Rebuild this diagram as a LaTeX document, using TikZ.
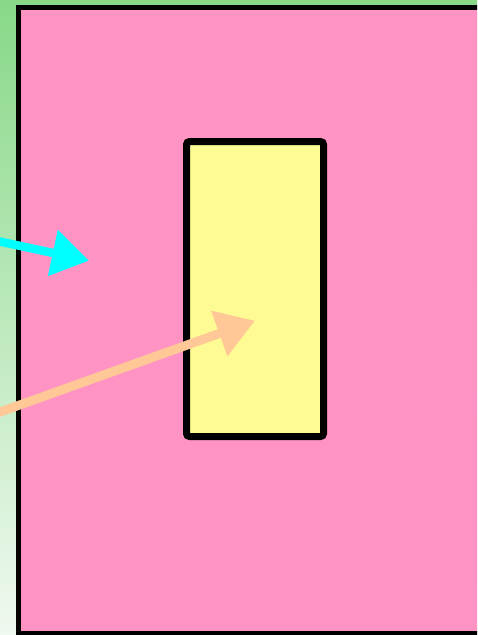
\documentclass[tikz,border=0pt]{standalone}
\usetikzlibrary{arrows.meta}
\definecolor{bgtop}{RGB}{136,216,136}
\definecolor{bgbot}{RGB}{240,249,240}
\definecolor{pinkfill}{RGB}{255,148,196}
\definecolor{yellowfill}{RGB}{255,251,148}
\definecolor{cyanarrow}{RGB}{0,255,255}
\definecolor{peacharrow}{RGB}{255,200,150}
\tikzset{
  panel/.style={draw=black, line width=5pt, fill=pinkfill},
  block/.style={draw=black, line width=7pt, fill=yellowfill, rounded corners=3pt, minimum width=137pt, minimum height=295pt, inner sep=0pt},
  cyanconn/.style={draw=cyanarrow, line width=8.5pt, -{Triangle[length=37pt,width=45pt]}},
  peachconn/.style={draw=peacharrow, line width=9pt, -{Triangle[length=38pt,width=46pt]}}
}
\begin{document}
\begin{tikzpicture}[x=1pt,y=-1pt]
\useasboundingbox (0,0) rectangle (477,635);
\clip (0,0) rectangle (477,635);
\shade[top color=bgtop, bottom color=bgbot] (0,0) rectangle (477,635);
\draw[panel] (18.5,7.5) rectangle (495,633.5);
\node[block] (box) at (255,289) {};
\coordinate (cstart) at (-20,237.3);
\coordinate (cend) at (89,260.7);
\coordinate (pstart) at (-20,419.2);
\coordinate (pend) at (255,320.7);
\draw[cyanconn] (cstart) -- (cend);
\draw[peachconn] (pstart) -- (pend);
\end{tikzpicture}
\end{document}
